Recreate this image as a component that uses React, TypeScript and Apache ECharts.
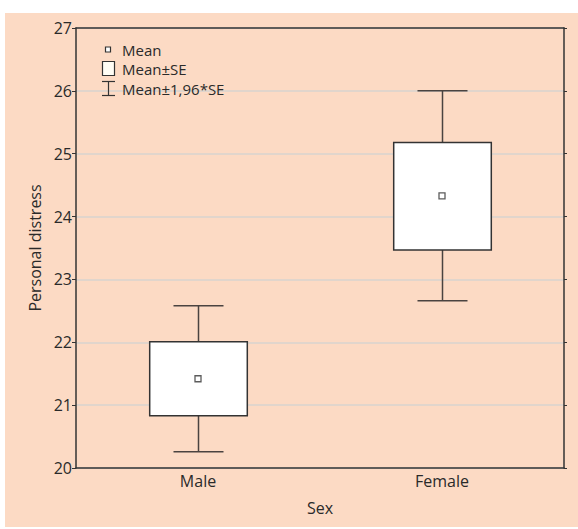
import React, { useEffect, useRef } from "react";
import * as echarts from "echarts";

const categories = ["Male", "Female"];
const means = [21.42, 24.33];
const seLow = [20.83, 23.47];
const seHigh = [22.01, 25.18];
const ciLow = [20.26, 22.66];
const ciHigh = [22.58, 26.0];
const yTicks = { min: 20, max: 27, interval: 1 };

const FONT = "'Open Sans', 'Noto Sans', sans-serif";
const TXT = "#2a2a2a";
const FS = 16;
const LFS = 15;

export default function App() {
  const ref = useRef<HTMLDivElement>(null);
  useEffect(() => {
    if (!ref.current) return;
    const chart = echarts.init(ref.current, null, { renderer: "svg" });
    const boxData = categories.map((_, i) => [i, ciLow[i], seLow[i], means[i], seHigh[i], ciHigh[i]]);
    const meanData = categories.map((_, i) => [i, means[i]]);
    const lt = (y: number, text: string) => ({
      type: "text",
      z: 100,
      x: 122,
      y,
      style: { text, font: `${LFS}px ${FONT}`, fill: TXT, verticalAlign: "middle", lineHeight: LFS },
    });
    chart.setOption({
      animation: false,
      backgroundColor: "#ffffff",
      textStyle: { fontFamily: FONT },
      graphic: [
        { type: "rect", z: -10, silent: true, shape: { x: 5, y: 13, width: 573, height: 514 }, style: { fill: "#fcdac4" } },
        { type: "rect", z: 100, shape: { x: 105.5, y: 47, width: 5, height: 5 }, style: { fill: "#fff", stroke: "#333", lineWidth: 1.2 } },
        lt(49.5, "Mean"),
        { type: "rect", z: 100, shape: { x: 102.5, y: 61.5, width: 12, height: 14 }, style: { fill: "#fffdf5", stroke: "#333", lineWidth: 1.2 } },
        lt(69, "Mean\u00b1SE"),
        { type: "line", z: 100, shape: { x1: 102, y1: 81.5, x2: 115, y2: 81.5 }, style: { stroke: "#333", lineWidth: 1.2 } },
        { type: "line", z: 100, shape: { x1: 108.5, y1: 81.5, x2: 108.5, y2: 95.5 }, style: { stroke: "#333", lineWidth: 1.2 } },
        { type: "line", z: 100, shape: { x1: 102, y1: 95.5, x2: 115, y2: 95.5 }, style: { stroke: "#333", lineWidth: 1.2 } },
        lt(88.5, "Mean\u00b11,96*SE"),
      ],
      grid: { left: 76, top: 28, right: 14, bottom: 61, containLabel: false },
      xAxis: [
        {
          type: "category",
          data: categories,
          position: "bottom",
          name: "Sex",
          nameLocation: "middle",
          nameGap: 32,
          nameTextStyle: { fontSize: FS, color: TXT, fontFamily: FONT },
          axisLine: { lineStyle: { color: "#333", width: 1.5 } },
          axisTick: { alignWithLabel: true, inside: true, length: 4, lineStyle: { color: "#333" } },
          axisLabel: { fontSize: FS, color: TXT, margin: 5, fontFamily: FONT },
        },
        {
          type: "category",
          data: categories,
          position: "top",
          axisLine: { show: true, lineStyle: { color: "#333", width: 1.5 } },
          axisTick: { alignWithLabel: true, inside: true, length: 4, lineStyle: { color: "#333" } },
          axisLabel: { show: false },
        },
      ],
      yAxis: [
        {
          type: "value",
          min: yTicks.min,
          max: yTicks.max,
          interval: yTicks.interval,
          name: "Personal distress",
          nameLocation: "middle",
          nameGap: 31,
          nameTextStyle: { fontSize: FS, color: TXT, fontFamily: FONT },
          axisLine: { show: true, lineStyle: { color: "#333", width: 1.5 } },
          axisTick: { show: true, length: 4, lineStyle: { color: "#333" } },
          axisLabel: { fontSize: FS, color: TXT, margin: 4, fontFamily: FONT },
          splitLine: { show: true, lineStyle: { color: "#d9d3cf", width: 1.5 } },
        },
        {
          type: "value",
          min: yTicks.min,
          max: yTicks.max,
          interval: yTicks.interval,
          position: "right",
          axisLine: { show: true, lineStyle: { color: "#333", width: 1.5 } },
          axisTick: { show: true, length: 3, lineStyle: { color: "#333" } },
          axisLabel: { show: false },
          splitLine: { show: false },
        },
      ],
      series: [
        {
          type: "custom",
          xAxisIndex: 0,
          yAxisIndex: 0,
          data: boxData,
          z: 5,
          renderItem: (params: any, api: any) => {
            const i = api.value(0);
            const band = api.size([1, 0])[0];
            const bw = band * 0.4;
            const cw = band * 0.205;
            const pLo = api.coord([i, api.value(1)]);
            const pBl = api.coord([i, api.value(2)]);
            const pBh = api.coord([i, api.value(4)]);
            const pHi = api.coord([i, api.value(5)]);
            const cx = Math.round(pLo[0]) + 0.5;
            const ws = { stroke: "#4a4340", lineWidth: 1.5 };
            return {
              type: "group",
              children: [
                { type: "line", shape: { x1: cx, y1: pHi[1], x2: cx, y2: pBh[1] }, style: ws },
                { type: "line", shape: { x1: cx, y1: pBl[1], x2: cx, y2: pLo[1] }, style: ws },
                { type: "line", shape: { x1: cx - cw / 2, y1: pHi[1], x2: cx + cw / 2, y2: pHi[1] }, style: ws },
                { type: "line", shape: { x1: cx - cw / 2, y1: pLo[1], x2: cx + cw / 2, y2: pLo[1] }, style: ws },
                {
                  type: "rect",
                  shape: { x: cx - bw / 2, y: pBh[1], width: bw, height: pBl[1] - pBh[1] },
                  style: { fill: "#ffffff", stroke: "#333", lineWidth: 1.5 },
                },
              ],
            };
          },
        },
        {
          type: "scatter",
          xAxisIndex: 0,
          yAxisIndex: 0,
          data: meanData,
          z: 10,
          symbol: "rect",
          symbolSize: 6,
          itemStyle: { color: "#ffffff", borderColor: "#333", borderWidth: 1.3 },
        },
      ],
    });
    return () => chart.dispose();
  }, []);
  return (
    <div
      ref={ref}
      style={{ position: "absolute", left: 0, top: 0, width: 578, height: 529 }}
    />
  );
}
